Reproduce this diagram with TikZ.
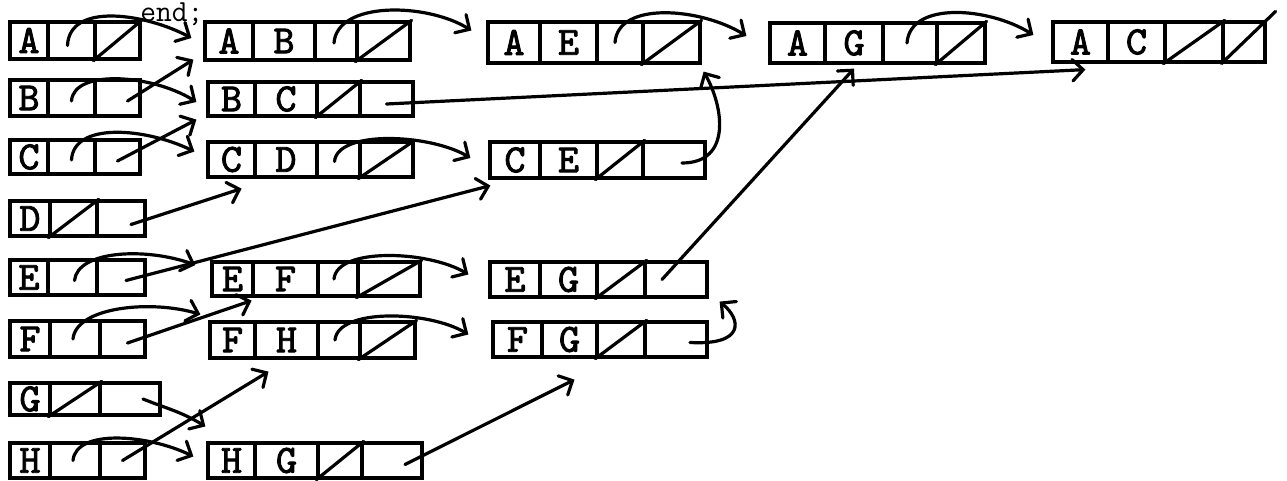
\documentclass[tikz,border=0pt]{standalone}
\usepackage{fontspec}
\newfontfamily\lettfont{lmmono10-regular.otf}[FakeBold=2.2]
\usetikzlibrary{fit,calc,arrows.meta}
\tikzset{
  cell/.style={draw, line width=2.4pt, inner sep=0pt},
  lett/.style={inner sep=0pt, font=\lettfont\fontsize{30}{30}\selectfont},
  nul/.style={line width=2.4pt, line cap=round},
  arr/.style={line width=2.4pt, line cap=round, -{Straight Barb[length=8pt,width=16pt,line cap=round]}},
  lbl/.style={inner sep=0pt, font=\ttfamily\fontsize{23}{23}\selectfont},
}
\newcommand\rec[4]{\foreach \xa/\xb/\lab [count=\i] in {#4}{\node[cell,fit={(\xa,#2)(\xb,#3)},label={[lett]center:\lab}] (#1\i) {};}}
\begin{document}
\begin{tikzpicture}[x=0.75pt,y=-0.75pt]
\useasboundingbox (0,0) rectangle (1287,481);
% column 1: vertex records
\rec{A}{22}{59}{10/48/A,48/95/{},95/140/{}}
\rec{B}{80}{116}{10/48/B,48/95/{},95/140/{}}
\rec{C}{140}{174}{10/48/C,48/95/{},95/140/{}}
\rec{D}{201}{236}{10/50/D,50/97/{},97/145/{}}
\rec{E}{260}{295}{10/48/E,48/97/{},97/145/{}}
\rec{F}{321}{357}{10/50/F,50/100/{},100/145/{}}
\rec{G}{383}{415}{10/50/G,50/100/{},100/160/{}}
\rec{H}{443}{478}{10/50/H,50/100/{},100/145/{}}
% column 2
\rec{AB}{22}{60}{205/253/A,253/315/B,315/357/{},357/410/{}}
\rec{BC}{82}{116}{208/255/B,255/317/C,317/360/{},360/413/{}}
\rec{CD}{142}{177}{208/255/C,255/317/D,317/360/{},360/413/{}}
\rec{EF}{262}{296}{212/253/E,253/318/F,318/358/{},358/420/{}}
\rec{FH}{322}{358}{210/255/F,255/318/H,318/360/{},360/415/{}}
\rec{HG}{443}{478}{208/255/H,255/318/G,318/362/{},362/422/{}}
% column 3
\rec{AE}{22}{63}{488/540/A,540/597/E,597/643/{},643/700/{}}
\rec{CE}{142}{178}{490/540/C,540/597/E,597/643/{},643/705/{}}
\rec{EG}{262}{297}{490/540/E,540/597/G,597/645/{},645/707/{}}
\rec{FG}{322}{357}{493/542/F,542/597/G,597/645/{},645/707/{}}
% column 4 and 5
\rec{AG}{23}{63}{770/825/A,825/883/G,883/937/{},937/985/{}}
\rec{AC}{22}{62}{1053/1108/A,1108/1165/C,1165/1223/{},1223/1265/{}}
% text
\node[lbl,anchor=base west] (endtxt) at (140,22) {end;};
% null pointers
\foreach \c in {A3,D2,G2,AB4,BC3,CD4,EF4,FH4,HG3,AE4,CE3,EG3,FG3,AG4,AC3}
  \draw[nul] (\c.south west) -- (\c.north east);
\draw[nul] (AC4.south west) -- ($(AC4.north east)+(9,-9)$);
% column 1 pointers
\draw[arr] ($(A2.center)+(-4,5)$) .. controls +(2,-44) and +(-45,-24) .. ($(AB1.west)+(-12,-3)$);
\draw[arr] ($(B2.center)+(0,3)$) .. controls +(2,-32) and +(-45,-28) .. ($(BC1.west)+(-10,3)$);
\draw[arr] ($(B3.center)+(10,3)$) -- ($(AB1.south west)+(-10,-2)$);
\draw[arr] ($(C2.center)+(0,3)$) .. controls +(2,-38) and +(-50,-24) .. ($(CD1.west)+(-12,-8)$);
\draw[arr] ($(C3.center)+(0,4)$) -- ($(BC1.south west)+(-10,2)$);
\draw[arr] ($(D3.center)+(10,6)$) -- ($(CD1.south east)+(-15,10)$);
\draw[arr] ($(E2.center)+(2,3)$) .. controls +(3,-30) and +(-50,-18) .. ($(EF1.west)+(-15,-14)$);
\draw[arr] ($(E3.center)+(5,3)$) -- ($(CE1.south west)+(2,6)$);
\draw[arr] ($(F2.center)+(-2,0)$) .. controls +(3,-32) and +(-50,-15) .. ($(FH1.north west)+(-8,-6)$);
\draw[arr] ($(F3.center)+(5,4)$) -- ($(EF1.south east)+(-3,3)$);
\draw[arr] ($(G3.center)+(13,0)$) .. controls +(25,10) and +(-25,-15) .. ($(HG1.north west)+(-1,-15)$);
\draw[arr] ($(H2.center)+(-2,0)$) .. controls +(3,-32) and +(-45,-22) .. ($(HG1.west)+(-13,-4)$);
\draw[arr] (H3.center) -- ($(FH2.south)+(-18,12)$);
% column 2 pointers
\draw[arr] ($(AB3.center)+(-2,2)$) .. controls +(3,-42) and +(-45,-28) .. ($(AE1.west)+(-15,-12)$);
\draw[arr] ($(BC4.center)+(0,5)$) -- ($(AC1.south west)+(34,6)$);
\draw[arr] ($(CD3.center)+(-4,2)$) .. controls +(3,-32) and +(-40,-24) .. ($(CE1.west)+(-18,-2)$);
\draw[arr] ($(EF3.center)+(-4,0)$) .. controls +(3,-32) and +(-40,-24) .. ($(EG1.west)+(-20,-5)$);
\draw[arr] ($(FH3.center)+(-4,0)$) .. controls +(3,-32) and +(-40,-24) .. ($(FG1.west)+(-23,-5)$);
\draw[arr] ($(HG4.center)+(13,4)$) -- ($(FG2.south)+(5,21)$);
% column 3 pointers
\draw[arr] ($(AE3.center)+(-5,0)$) .. controls +(3,-42) and +(-45,-28) .. ($(AG1.west)+(-22,-7)$);
\draw[arr] ($(CE4.center)+(8,3)$) .. controls +(50,0) and +(20,35) .. ($(AE4.south east)+(2,7)$);
\draw[arr] ($(EG4.center)+(-14,0)$) -- ($(AG2.south)+(0,4)$);
\draw[arr] ($(FG4.center)+(14,3)$) .. controls +(55,3) and +(22,18) .. ($(EG4.south east)+(11,3)$);
% column 4 pointer
\draw[arr] ($(AG3.center)+(-3,0)$) .. controls +(3,-42) and +(-45,-28) .. ($(AC1.west)+(-18,-7)$);
\end{tikzpicture}
\end{document}
